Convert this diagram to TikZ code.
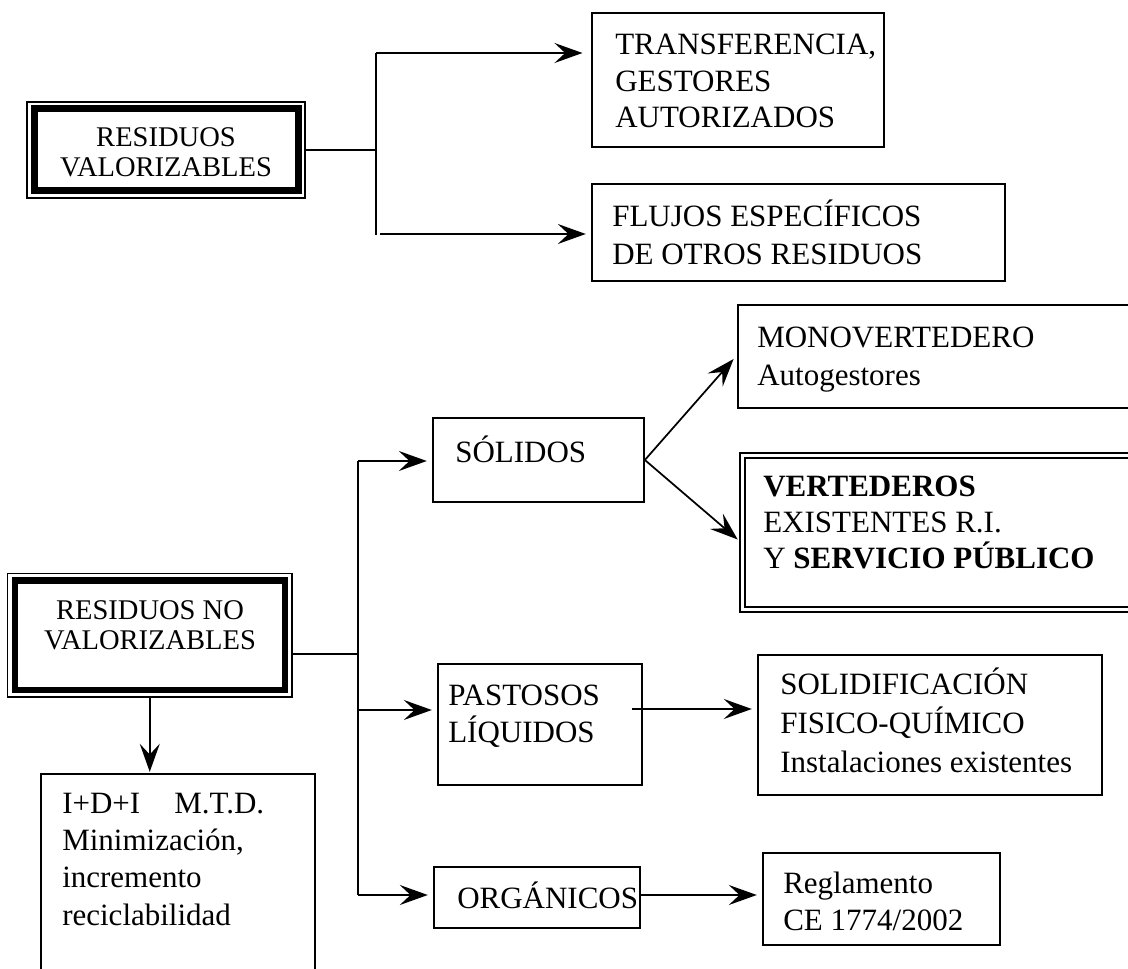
\documentclass[tikz,border=0pt]{standalone}
\usepackage{fontspec}
\setmainfont{Liberation Serif}
\usetikzlibrary{arrows.meta}
\usetikzlibrary{fit}

\begin{document}
\begin{tikzpicture}[x=0.75pt,y=-0.75pt]
    \tikzstyle{edge}=[draw=black,line width=1.3pt,-]
    \tikzstyle{arrow}=[edge,-{Stealth[length=21pt,width=15pt,inset=8pt]},shorten >=4pt]
    \tikzstyle{box}=[draw=black,line width=1.3pt,rectangle,inner sep=0pt]
    \tikzstyle{heavy}=[draw=black,line width=5pt,rectangle,inner sep=0pt]
    \tikzstyle{thinbox}=[draw=black,line width=1.1pt,rectangle,inner sep=0pt]
    \tikzstyle{dbl}=[draw=black,double,line width=1.1pt,double distance=2.6pt,rectangle,inner sep=0pt]
    \tikzstyle{txt}=[inner sep=0pt,align=left,anchor=base west,font=\fontsize{23.25}{28.5}\selectfont]
    \tikzstyle{big}=[inner sep=0pt,align=center,anchor=base,font=\fontsize{21.4}{22.5}\selectfont]

    \useasboundingbox (0,0) rectangle (1128,969);
    \clip (0,0) rectangle (1128,969);

    % residuos valorizables (text nodes sit on their last baseline)
    \node[thinbox,fit={(27,102) (305,198)}] (rvo) {};
    \node[heavy,fit={(34.5,108.5) (298.5,190.5)}] (rv) {};
    \node[big] (rv-t) at (166,177) {RESIDUOS\\VALORIZABLES};

    \node[box,fit={(592,13) (884,147)}] (transf) {};
    \node[txt,font=\fontsize{23.25}{27.4}\selectfont] (transf-t) at (615,128) {TRANSFERENCIA,\\GESTORES\\AUTORIZADOS};

    \node[box,fit={(592,184) (1005,281)}] (flujos) {};
    \node[txt] (flujos-t) at (612,265) {FLUJOS ESPECÍFICOS\\DE OTROS RESIDUOS};

    \coordinate (v1t) at (376,53);
    \coordinate (v1b) at (376,235);
    \coordinate (v1f) at (380,234);
    \path[edge] (rvo.east) -- (rvo.east -| v1t);
    \path[edge] (v1t) -- (v1b);
    \path[arrow,shorten >=6.5pt] (v1t) -- (v1t -| transf.west);
    \path[arrow] (v1f) -- (v1f -| flujos.west);

    % residuos no valorizables
    \node[thinbox,fit={(7.5,573.5) (292,697)}] (rnvo) {};
    \node[heavy,fit={(15,580.5) (285,690)}] (rnv) {};
    \node[big] (rnv-t) at (150,649) {RESIDUOS NO\\VALORIZABLES};

    \node[box,fit={(41,774) (315,1000)}] (idi) {};
    \node[txt,font=\fontsize{23.25}{28}\selectfont] (idi-t) at (62,925)
        {I+D+I\hspace{1.1em}M.T.D.\\Minimización,\\incremento\\reciclabilidad};

    \node[box,fit={(433,418) (644,502)}] (solidos) {};
    \node[txt] (solidos-t) at (455,463) {SÓLIDOS};

    \node[box,fit={(438,664) (642,785)}] (pastosos) {};
    \node[txt,font=\fontsize{23.25}{27.75}\selectfont] (pastosos-t) at (448,742) {PASTOSOS\\LÍQUIDOS};

    \node[box,fit={(434,867) (640,928)}] (organicos) {};
    \node[txt] (organicos-t) at (457,908) {ORGÁNICOS};

    \node[box,fit={(738,305) (1140,408)}] (mono) {};
    \node[txt] (mono-t) at (757,386) {MONOVERTEDERO\\Autogestores};

    \node[dbl,fit={(742.5,455.5) (1140,609.5)}] (vert) {};
    \node[txt,font=\fontsize{23.25}{27}\selectfont] (vert-t) at (763,568)
        {\textbf{VERTEDEROS}\\EXISTENTES R.I.\\Y \textbf{SERVICIO PÚBLICO}};

    \node[box,fit={(758,655) (1102,795)}] (solidif) {};
    \node[txt,font=\fontsize{23.25}{28.9}\selectfont] (solidif-t) at (780,772) {SOLIDIFICACIÓN\\FISICO-QUÍMICO\\Instalaciones existentes};

    \node[box,fit={(763,853) (1000,945)}] (regla) {};
    \node[txt,font=\fontsize{23.25}{27.75}\selectfont] (regla-t) at (783,930) {Reglamento\\CE 1774/2002};

    \coordinate (v2t) at (358,461);
    \coordinate (v2m) at (358,654);
    \coordinate (v2p) at (358,710);
    \coordinate (v2b) at (358,895);
    \coordinate (p1) at (632,709);
    \path[edge] (rnvo.east |- v2m) -- (v2m);
    \path[edge] (v2t) -- (v2b);
    \path[arrow] (v2t) -- (v2t -| solidos.west);
    \path[arrow] (v2p) -- (v2p -| pastosos.west);
    \path[arrow] (v2b) -- (v2b -| organicos.west);
    \path[arrow,shorten >=1pt] (rnvo.south) -- (idi.north -| rnvo.south);

    \path[arrow] (solidos.east) -- (mono.west |- 0,355);
    \path[arrow] (solidos.east) -- (vert.west |- 0,543);
    \path[arrow] (p1) -- (p1 -| solidif.west);
    \path[arrow] (organicos.east |- v2b) -- (regla.west |- v2b);
\end{tikzpicture}
\end{document}
